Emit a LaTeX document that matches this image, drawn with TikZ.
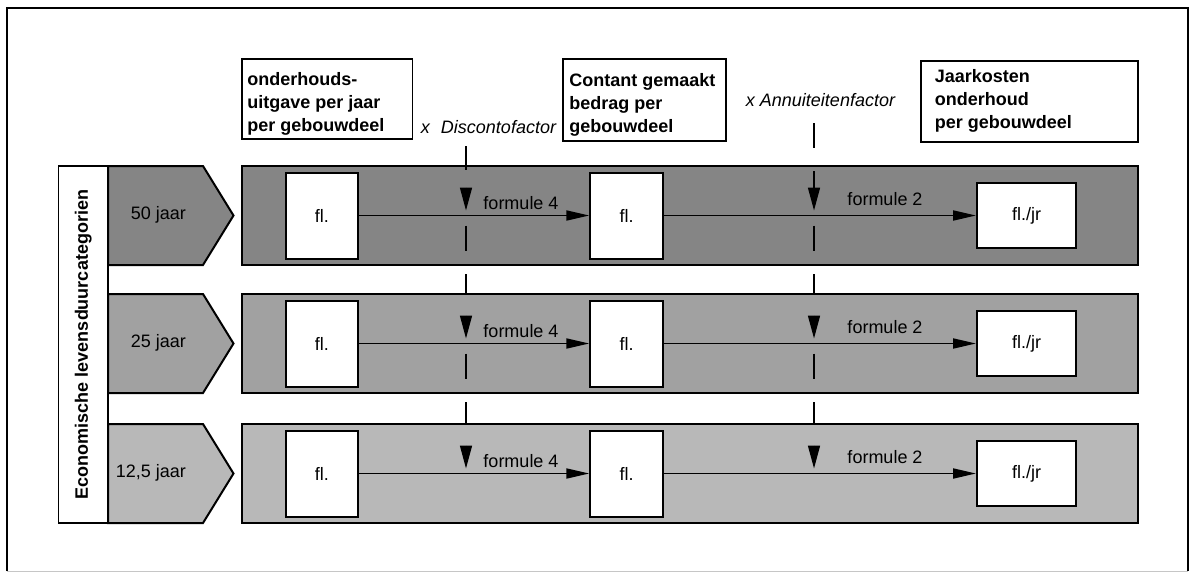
\documentclass[tikz,border=0pt]{standalone}
\usepackage{fontspec}
\setmainfont{Liberation Sans}
\usetikzlibrary{arrows.meta}
\definecolor{rowA}{gray}{0.52}
\definecolor{rowB}{gray}{0.63}
\definecolor{rowC}{gray}{0.72}
\tikzset{
  txt/.style={font=\fontsize{18}{23}\selectfont, inner sep=0pt},
  hdrbox/.style={draw, line width=1.8pt, fill=white, inner sep=0pt},
  hdrtext/.style={font=\bfseries\fontsize{18}{23}\selectfont, align=left, inner sep=0pt, anchor=north west},
  catbox/.style={draw, line width=1.8pt, fill=white, inner sep=0pt, font=\bfseries\fontsize{18}{23}\selectfont},
  flbox/.style={draw, line width=2pt, fill=white, minimum width=72.5pt, minimum height=86pt, inner sep=0pt, font=\fontsize{18}{23}\selectfont},
  jrbox/.style={flbox, minimum width=99pt, minimum height=65pt},
  bandbox/.style={draw, line width=2pt, minimum width=896pt, minimum height=99pt, inner sep=0pt},
  chev/.style={draw, line width=2pt, line join=miter},
  flow/.style={line width=1.9pt, -{Triangle[length=23pt,width=10pt]}},
  drop/.style={line width=1.6pt, -{Triangle[length=23pt,width=12pt]}},
  factor/.style={line width=1.6pt},
}
\begin{document}
\begin{tikzpicture}[x=1pt,y=-1pt]
\useasboundingbox (0,0) rectangle (1190,573);
% outer frame
\draw[line width=1.2pt] (7,571) -- (7,8) -- (1188,8) -- (1188,571);
\draw[line width=0.8pt, gray!45] (7,571) -- (1188,571);

% header boxes
\node[hdrbox, minimum width=170.5pt, minimum height=80pt] (h1) at (327.25,99) {};
\node[hdrtext] (h1t) at ([xshift=6pt,yshift=-14pt]h1.north west) {onderhouds-\\uitgave per jaar\\per gebouwdeel};
\node[hdrbox, minimum width=163.4pt, minimum height=82pt] (h2) at (644.3,100) {};
\node[hdrtext] (h2t) at ([xshift=7.5pt,yshift=-15pt]h2.north west) {Contant gemaakt\\bedrag per\\gebouwdeel};
\node[hdrbox, minimum width=217pt, minimum height=81pt] (h3) at (1029.5,101.5) {};
\node[hdrtext] (h3t) at ([xshift=14.6pt,yshift=-9pt]h3.north west) {Jaarkosten\\onderhoud\\per gebouwdeel};

% factor labels
\node[txt, font=\itshape\fontsize{18}{23}\selectfont] (disc) at (488.5,127) {x\hspace{11pt}Discontofactor};
\node[txt, font=\itshape\fontsize{18}{23}\selectfont] (annu) at (820.5,100) {x Annuiteitenfactor};

% category label
\node[catbox, rotate=90, minimum width=357pt, minimum height=49.5pt] (cat) at (83.25,344.5) {Economische levensduurcategorien};

% rows
\foreach \i/\c/\col/\yr in {1/215.5/rowA/{50 jaar},2/343.5/rowB/{25 jaar},3/473.5/rowC/{12,5 jaar}}{
  \node[bandbox, fill=\col] (band\i) at (690,\c) {};
  \draw[chev, fill=\col] (108,\c-49.5) -- (203,\c-49.5) -- (233.5,\c) -- (203,\c+49.5) -- (108,\c+49.5) -- cycle;
  \node[txt, anchor=east] (yr\i) at (186,\c-1) {\yr};
  \node[flbox] (fa\i) at (321.75,\c) {f\kern0pt l.};
  \node[flbox] (fb\i) at (626.5,\c) {f\kern0pt l.};
  \node[jrbox] (fc\i) at (1026.5,\c) {f\kern0pt l./jr};
  \draw[flow] (fa\i) -- (fb\i);
  \draw[flow] (fb\i) -- (fc\i);
  \node[txt] (ff\i) at (521,\c-12) {formule 4};
  \node[txt] (fg\i) at (885,\c-16) {formule 2};
  \coordinate (dtop\i) at (466,\c-28);
  \coordinate (dtip\i) at (466,\c-5);
  \coordinate (atop\i) at (814,\c-28);
  \coordinate (atip\i) at (814,\c-5);
  \draw[drop] (dtop\i) -- (dtip\i);
  \draw[drop] (atop\i) -- (atip\i);
}

% factor lines above first row
\coordinate (d0a) at (466,146); \coordinate (d0b) at (466,170);
\draw[factor] (d0a) -- (d0b);
\coordinate (a0a) at (814,123); \coordinate (a0b) at (814,148);
\draw[factor] (a0a) -- (a0b);
\coordinate (a0c) at (814,171);
\draw[factor] (a0c) -- (atop1);

% dashed continuation below the arrows and between rows
\foreach \i/\c in {1/215.5,2/343.5}{
  \coordinate (dsa\i) at (466,\c+10); \coordinate (dsb\i) at (466,\c+35);
  \coordinate (asa\i) at (814,\c+10); \coordinate (asb\i) at (814,\c+35);
  \draw[factor] (dsa\i) -- (dsb\i);
  \draw[factor] (asa\i) -- (asb\i);
}
\foreach \i/\a/\b in {1/274/295,2/402/424}{
  \coordinate (dga\i) at (466,\a); \coordinate (dgb\i) at (466,\b);
  \coordinate (aga\i) at (814,\a); \coordinate (agb\i) at (814,\b);
  \draw[factor] (dga\i) -- (dgb\i);
  \draw[factor] (aga\i) -- (agb\i);
}
\end{tikzpicture}
\end{document}
